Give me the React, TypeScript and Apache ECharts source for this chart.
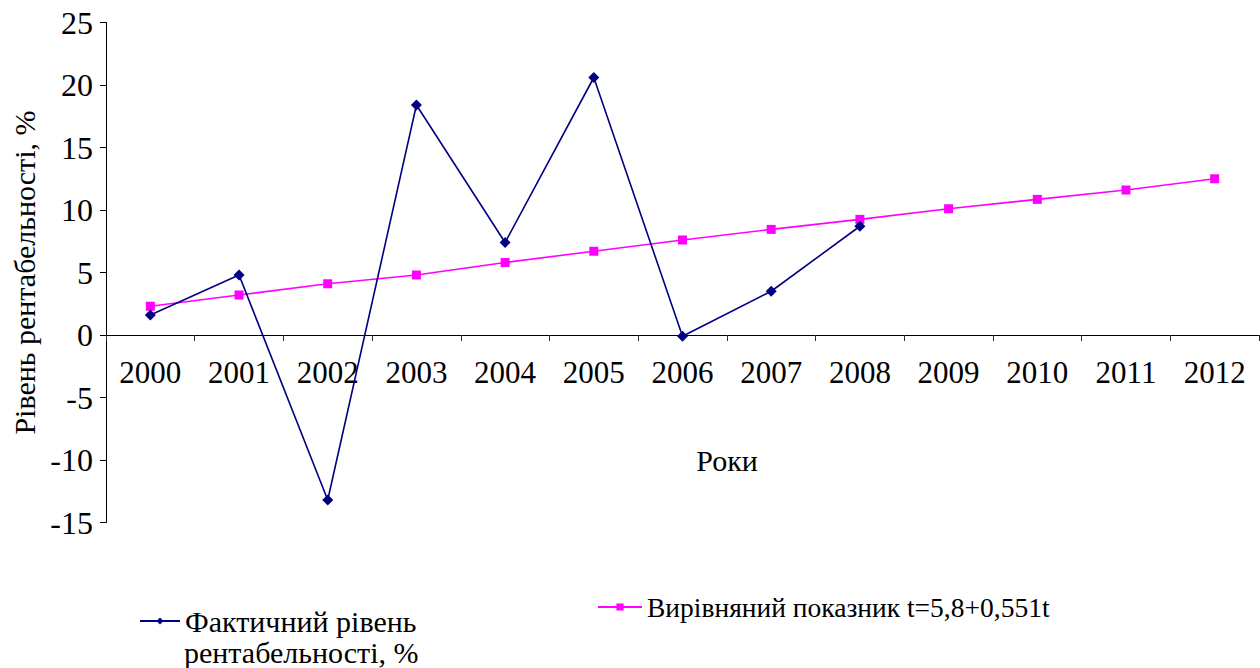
import React, { useEffect, useRef } from "react";
import * as echarts from "echarts";

const years = ["2000", "2001", "2002", "2003", "2004", "2005", "2006", "2007", "2008", "2009", "2010", "2011", "2012"];
const actual = [1.6, 4.8, -13.2, 18.4, 7.4, 20.6, -0.1, 3.5, 8.7];
const trend = [2.3, 3.2, 4.1, 4.8, 5.8, 6.7, 7.6, 8.45, 9.25, 10.1, 10.85, 11.6, 12.5];
const actualName = "Фактичний рівень рентабельності, %";
const trendName = "Вирівняний показник t=5,8+0,551t";
const yTitle = "Рівень рентабельності, %";
const xTitle = "Роки";

const FONT = "'Liberation Serif', 'Times New Roman', serif";

export default function App() {
  const ref = useRef<HTMLDivElement>(null);
  useEffect(() => {
    if (!ref.current) return;
    const chart = echarts.init(ref.current, null, { renderer: "svg" });
    chart.setOption({
      animation: false,
      textStyle: { fontFamily: FONT, color: "#000" },
      grid: { left: 106, right: 1, top: 22.5, bottom: 145.5, containLabel: false },
      xAxis: {
        type: "category",
        data: years,
        boundaryGap: true,
        offset: -187.5,
        axisLine: { onZero: false, lineStyle: { color: "#000", width: 1 } },
        axisTick: { show: true, length: 6, lineStyle: { color: "#333" }, alignWithLabel: false },
        axisLabel: { fontFamily: FONT, fontSize: 31, color: "#000", margin: 22 },
        splitLine: { show: false },
      },
      yAxis: {
        type: "value",
        min: -15,
        max: 25,
        interval: 5,
        name: yTitle,
        nameLocation: "middle",
        nameGap: 64,
        nameTextStyle: { fontFamily: FONT, fontSize: 30, color: "#000" },
        axisLine: { show: true, lineStyle: { color: "#000", width: 1 } },
        axisTick: { show: true, length: 6, lineStyle: { color: "#000" } },
        axisLabel: { fontFamily: FONT, fontSize: 32, color: "#000", margin: 13 },
        splitLine: { show: false },
      },
      legend: [
        {
          data: [actualName],
          left: 139,
          top: 603,
          itemWidth: 40,
          itemHeight: 9,
          itemGap: 0,
          padding: 0,
          formatter: () => "Фактичний рівень",
          textStyle: { fontFamily: FONT, fontSize: 30, color: "#000", lineHeight: 36 },
        },
        {
          data: [trendName],
          left: 597,
          top: 589,
          itemWidth: 44,
          itemHeight: 9,
          itemGap: 0,
          padding: 0,
          textStyle: { fontFamily: FONT, fontSize: 27.5, color: "#000", lineHeight: 36 },
        },
      ],
      graphic: [
        {
          type: "text",
          left: 184,
          top: 637,
          style: { text: "рентабельності, %", fontFamily: FONT, fontSize: 30, fill: "#000" },
        },
        {
          type: "text",
          x: 727,
          y: 460,
          style: { text: xTitle, fontFamily: FONT, fontSize: 30, fill: "#000", align: "center", verticalAlign: "middle" },
        },
      ],
      series: [
        {
          name: actualName,
          type: "line",
          data: actual,
          symbol: "diamond",
          symbolSize: 11,
          lineStyle: { color: "#000080", width: 1.6 },
          itemStyle: { color: "#000080" },
          z: 3,
        },
        {
          name: trendName,
          type: "line",
          data: trend,
          symbol: "rect",
          symbolSize: 9,
          lineStyle: { color: "#FF00FF", width: 1.6 },
          itemStyle: { color: "#FF00FF" },
          z: 2,
        },
      ],
    });
    return () => chart.dispose();
  }, []);
  return <div ref={ref} style={{ width: 1260, height: 668, position: "absolute", left: 0, top: 0 }} />;
}
